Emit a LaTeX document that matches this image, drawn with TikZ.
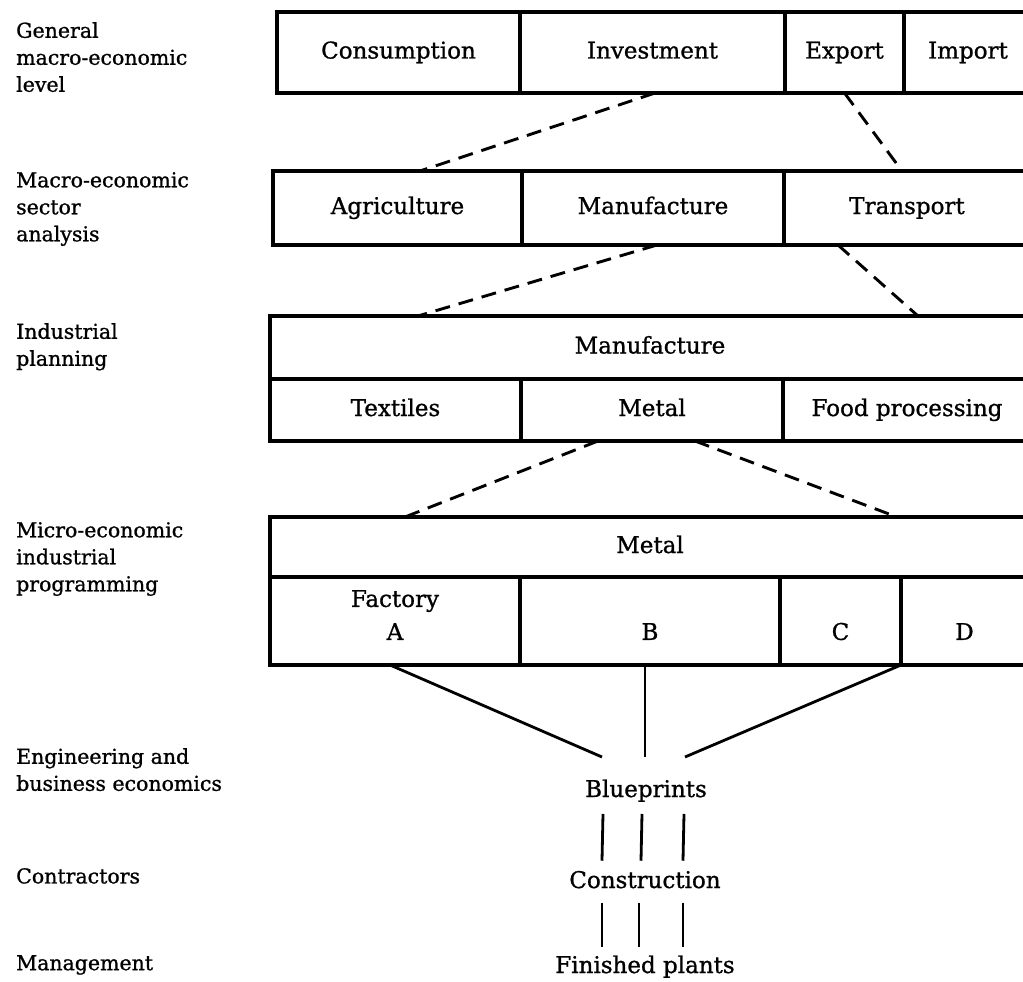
\documentclass[tikz,border=0pt]{standalone}
\usepackage{fontspec}
\setmainfont{DejaVu Serif}[FakeBold=1]
\usetikzlibrary{calc}
\newcommand\cellfont{\fontsize{23}{33}\selectfont}
\newcommand\sidefont{\fontsize{20.5}{27}\selectfont}
\begin{document}
\begin{tikzpicture}[x=1pt,y=-1pt,
  frame/.style={draw, line width=3.2pt, anchor=north west, inner sep=0pt, outer sep=0pt,
    font=\cellfont},
  cell/.style={frame, text height=17.5pt, text depth=5.5pt},
  rowA/.style={cell, minimum height=81pt},
  rowB/.style={cell, minimum height=74pt},
  headC/.style={cell, minimum height=63pt},
  subC/.style={cell, minimum height=62pt},
  headD/.style={cell, minimum height=60pt},
  subD/.style={frame, minimum height=88pt, align=center, text depth=12pt},
  side/.style={anchor=north west, align=left, inner sep=0pt, font=\sidefont},
  stage/.style={anchor=base, inner sep=0pt, font=\cellfont},
  link/.style={line width=2.9pt, dash pattern=on 15pt off 9pt},
  tie/.style={line width=2.8pt}]
\useasboundingbox (0,0) rectangle (1023,982);

% level labels on the left
\node[side] (lgen) at (16,22) {General\\macro-economic\\level};
\node[side] (lsec) at (16,172) {Macro-economic\\sector\\analysis};
\node[side] (lind) at (16,323) {Industrial\\planning};
\node[side] (lmic) at (16,522) {Micro-economic\\industrial\\programming};
\node[side] (leng) at (16,748) {Engineering and\\business economics};
\node[side] (lcon) at (16,868) {Contractors};
\node[side] (lman) at (16,955) {Management};

% general macro-economic level
\node[rowA, minimum width=243pt] (cons) at (277,12) {Consumption};
\node[rowA, minimum width=265pt] (inv)  at (520,12) {Investment};
\node[rowA, minimum width=119pt] (exp)  at (785,12) {Export};
\node[rowA, minimum width=128pt] (imp)  at (904,12) {Import};

% sectors
\node[rowB, minimum width=249pt] (agr) at (273,171) {Agriculture};
\node[rowB, minimum width=262pt] (man) at (522,171) {Manufacture};
\node[rowB, minimum width=246pt] (tra) at (784,171) {Transport};

% industrial planning
\node[headC, minimum width=760pt] (mfh) at (270,316) {Manufacture};
\node[subC, minimum width=251pt] (tex)  at (270,379) {Textiles};
\node[subC, minimum width=262pt] (met)  at (521,379) {Metal};
\node[subC, minimum width=248pt] (food) at (783,379) {Food processing};

% industrial programming
\node[headD, minimum width=760pt] (mth) at (270,517) {Metal};
\node[subD, minimum width=250pt] (fa) at (270,577) {Factory\\A};
\node[subD, minimum width=260pt] (fb) at (520,577) {\vphantom{Factory}\\B};
\node[subD, minimum width=121pt] (fc) at (780,577) {\vphantom{Factory}\\C};
\node[subD, minimum width=127pt] (fd) at (901,577) {\vphantom{Factory}\\D};

% execution stages
\node[stage] (bp) at (646,797) {Blueprints};
\node[stage] (cn) at (645,888) {Construction};
\node[stage] (fp) at (645,973) {Finished plants};

% dashed links between levels
\draw[link] ($(inv.south)+(2.5,0)$) -- ($(agr.north)+(22.5,0)$);
\draw[link] (exp.south) -- ($(tra.north west)+(118,0)$);
\draw[link] ($(man.south)+(4,0)$) -- ($(mfh.north west)+(148,0)$);
\draw[link] ($(tra.south west)+(54,0)$) -- ($(mfh.north west)+(648,0)$);
\draw[link] ($(met.south west)+(77,0)$) -- ($(mth.north west)+(135,0)$);
\draw[link] ($(met.south west)+(174,0)$) -- ($(mth.north west)+(627,0)$);

% factories feeding the blueprints
\coordinate (j1) at (602,757);
\coordinate (j2) at (645,757);
\coordinate (j3) at (685,757);
\draw[tie] ($(fa.south west)+(120,0)$) -- (j1);
\draw[tie] ($(fb.south west)+(125,0)$) -- (j2);
\draw[tie] (fc.south east) -- (j3);

% blueprints to construction to plants
\foreach \dx in {-43,-4,38}
  \draw[tie] ($(bp.south)+(\dx,12)$) -- ($(cn.north)+(\dx,-10)$);
\foreach \dx in {-43,-6,38}
  \draw[tie] ($(cn.south)+(\dx,14)$) -- ($(fp.north)+(\dx,-8)$);
\end{tikzpicture}
\end{document}
